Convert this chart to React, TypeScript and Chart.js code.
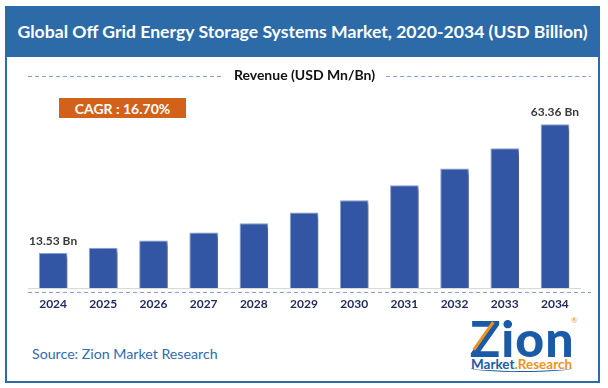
import React, { useEffect, useRef } from "react";
import { Chart, registerables } from "chart.js";

Chart.register(...registerables);

const categories = ["2024", "2025", "2026", "2027", "2028", "2029", "2030", "2031", "2032", "2033", "2034"];
const revenue = [13.53, 15.6, 18.4, 21.5, 25.0, 29.2, 33.9, 39.7, 46.2, 54.0, 63.36];
const seriesLabel = "Revenue (USD Mn/Bn)";
const titleText = "Global Off Grid Energy Storage Systems Market, 2020-2034 (USD Billion)";
const cagrText = "CAGR : 16.70%";
const sourceText = "Source: Zion Market Research";
const labelledIndexes = [0, 10];

const FONT = "Lato, 'Open Sans', sans-serif";

const shadowPlugin = {
  id: "barShadow",
  beforeDatasetsDraw(chart: any) {
    const ctx = chart.ctx;
    ctx.save();
    ctx.shadowColor = "rgba(0,0,0,0.45)";
    ctx.shadowOffsetX = 4;
    ctx.shadowOffsetY = 3;
    ctx.shadowBlur = 4;
  },
  afterDatasetsDraw(chart: any) {
    chart.ctx.restore();
  },
};

const decorPlugin = {
  id: "decor",
  afterDraw(chart: any) {
    const ctx = chart.ctx;
    const area = chart.chartArea;
    const meta = chart.getDatasetMeta(0);
    ctx.save();
    ctx.font = `bold 12px ${FONT}`;
    ctx.fillStyle = "#3a3a3a";
    ctx.textAlign = "center";
    ctx.textBaseline = "alphabetic";
    labelledIndexes.forEach((i) => {
      const bar = meta.data[i];
      const v = chart.data.datasets[0].data[i];
      ctx.fillText(`${v} Bn`, bar.x, bar.y - 8);
    });
    ctx.restore();

    ctx.save();
    ctx.strokeStyle = "#7f9fd9";
    ctx.lineWidth = 1;
    ctx.setLineDash([4, 3]);
    ctx.beginPath();
    ctx.moveTo(area.left, area.bottom + 4.5);
    ctx.lineTo(area.right + 11, area.bottom + 4.5);
    ctx.stroke();

    const label = chart.data.datasets[0].label;
    ctx.setLineDash([]);
    ctx.font = `bold 14px ${FONT}`;
    ctx.fillStyle = "#111111";
    ctx.textAlign = "center";
    ctx.textBaseline = "middle";
    const cx = 304.5;
    const ly = 75;
    ctx.fillText(label, cx, ly);
    const w = ctx.measureText(label).width;
    ctx.setLineDash([4, 3]);
    ctx.beginPath();
    ctx.moveTo(area.left, ly + 1.5);
    ctx.lineTo(cx - w / 2 - 13, ly + 1.5);
    ctx.moveTo(cx + w / 2 + 11, ly + 1.5);
    ctx.lineTo(area.right + 11, ly + 1.5);
    ctx.stroke();
    ctx.restore();
  },
};

function ChartCanvas() {
  const ref = useRef<HTMLCanvasElement | null>(null);
  useEffect(() => {
    if (!ref.current) return;
    const chart = new Chart(ref.current, {
      type: "bar",
      data: {
        labels: categories,
        datasets: [
          {
            label: seriesLabel,
            data: revenue,
            backgroundColor: "#3256a4",
            borderColor: "#8ca4d6",
            borderWidth: 1,
            barPercentage: 0.57,
            categoryPercentage: 1,
          },
        ],
      },
      options: {
        animation: false,
        responsive: false,
        devicePixelRatio: 1,
        layout: { padding: { left: 28, right: 28, top: 107, bottom: 60 } },
        plugins: {
          legend: { display: false },
          title: { display: false },
          tooltip: { enabled: false },
        },
        scales: {
          y: { display: false, min: 0, max: 70 },
          x: {
            grid: { display: false, drawTicks: false },
            border: { display: true, color: "#d9d9d9", width: 1 },
            ticks: {
              color: "#1c2a5a",
              font: { family: FONT, size: 12, weight: "bold" },
              padding: 9,
              maxRotation: 0,
              autoSkip: false,
            },
            afterFit: (scale: any) => {
              scale.height = 40;
            },
          },
        },
      },
      plugins: [shadowPlugin, decorPlugin],
    } as any);
    return () => chart.destroy();
  }, []);
  return (
    <canvas
      ref={ref}
      width={608}
      height={388}
      style={{ position: "absolute", left: 0, top: 0, width: 608, height: 388, pointerEvents: "none" }}
    />
  );
}

export default function App() {
  return (
    <div
      style={{
        position: "absolute",
        left: 0,
        top: 0,
        width: 608,
        height: 388,
        background: "#ffffff",
        fontFamily: FONT,
        overflow: "hidden",
      }}
    >
      <div
        style={{
          position: "absolute",
          left: 5,
          top: 6,
          width: 595,
          height: 377,
          boxSizing: "border-box",
          border: "2px solid #2c6aa8",
        }}
      />
      <div
        style={{
          position: "absolute",
          left: 5,
          top: 6,
          width: 595,
          height: 51,
          background: "#2c6aa8",
          color: "#ffffff",
          fontWeight: 700,
          fontSize: 17.6,
          display: "flex",
          alignItems: "center",
          justifyContent: "center",
          whiteSpace: "nowrap",
        }}
      >
        {titleText}
      </div>
      <div
        style={{
          position: "absolute",
          left: 59,
          top: 98,
          width: 127,
          height: 20,
          background: "#d2611a",
          color: "#ffffff",
          fontWeight: 700,
          fontSize: 14,
          display: "flex",
          alignItems: "center",
          justifyContent: "center",
          whiteSpace: "nowrap",
        }}
      >
        {cagrText}
      </div>
      <div
        style={{
          position: "absolute",
          left: 32,
          top: 344,
          fontSize: 14.2,
          color: "#2e6db0",
          whiteSpace: "nowrap",
          lineHeight: "20px",
        }}
      >
        {sourceText}
      </div>
      <div style={{ position: "absolute", left: 470, top: 313, width: 106, height: 62 }}>
        <div
          style={{
            position: "absolute",
            left: 0,
            top: 0,
            fontSize: 50,
            lineHeight: "50px",
            fontWeight: 900,
            color: "#1b5aa6",
            letterSpacing: 1,
            whiteSpace: "nowrap",
          }}
        >
          Zion
        </div>
        <div
          style={{
            position: "absolute",
            left: 12,
            top: 6,
            width: 3,
            height: 34,
            background: "#f0921e",
            transform: "rotate(35deg)",
            transformOrigin: "center",
          }}
        />
        <div style={{ position: "absolute", left: 101, top: 2, fontSize: 8, color: "#f0921e" }}>®</div>
        <div
          style={{
            position: "absolute",
            left: 1,
            top: 44,
            fontSize: 13.5,
            lineHeight: "14px",
            fontWeight: 700,
            whiteSpace: "nowrap",
            borderBottom: "1px solid #1b5aa6",
            borderRadius: "0 0 50% 50% / 0 0 4px 4px",
          }}
        >
          <span style={{ color: "#1b5aa6" }}>Market</span>
          <span style={{ color: "#f0921e" }}>.Research</span>
        </div>
      </div>
      <ChartCanvas />
    </div>
  );
}
